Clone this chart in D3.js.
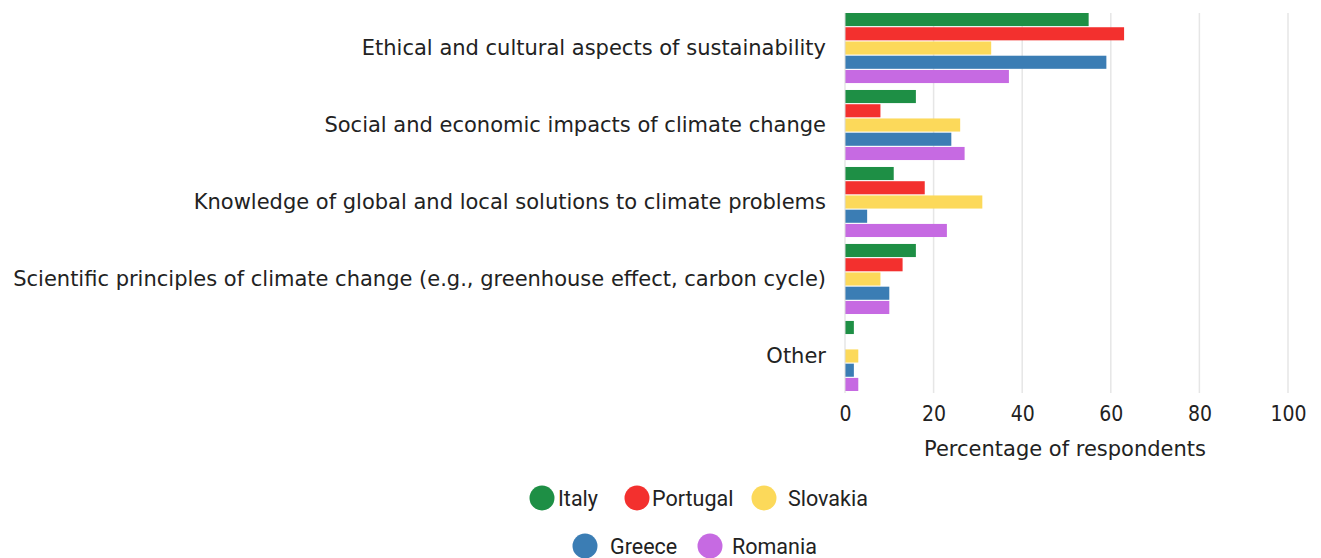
<!DOCTYPE html>
<html><head><meta charset="utf-8">
<script src="https://cdn.jsdelivr.net/npm/d3@7/dist/d3.min.js"></script>
<style>body{margin:0;background:#fff}svg{display:block}</style>
</head><body><svg id="c" width="1321" height="558"></svg>
<script>
const categories = [
  "Ethical and cultural aspects of sustainability",
  "Social and economic impacts of climate change",
  "Knowledge of global and local solutions to climate problems",
  "Scientific principles of climate change (e.g., greenhouse effect, carbon cycle)",
  "Other"
];
const seriesNames = ["Italy","Portugal","Slovakia","Greece","Romania"];
const italy    = [55,16,11,16,2];
const portugal = [63,8,18,13,0];
const slovakia = [33,26,31,8,3];
const greece   = [59,24,5,10,2];
const romania  = [37,27,23,10,3];
const seriesValues = [italy,portugal,slovakia,greece,romania];
const colors = ["#1e8f45","#f3302e","#fcd95a","#3b7db4","#c66ae2"];
const xTicks = [0,20,40,60,80,100];
const xTitle = "Percentage of respondents";

const svg = d3.select("#c");
const labelFont = "'DejaVu Sans', sans-serif";
const tickFont = "'DejaVu Sans Condensed', 'DejaVu Sans', sans-serif";
const x = d3.scaleLinear().domain([0,100]).range([845,1288]);
const y = d3.scaleBand().domain(categories).range([13,391]).paddingInner(0.09).paddingOuter(0);
const y1 = d3.scaleBand().domain(seriesNames).range([0,y.bandwidth()]).paddingInner(0.08);

// gridlines
svg.append("g").selectAll("line").data(xTicks.filter(d=>d>0)).join("line")
  .attr("x1",d=>x(d)).attr("x2",d=>x(d)).attr("y1",13).attr("y2",393)
  .attr("stroke","#e6e6e6").attr("stroke-width",1.5);

// bars
const g = svg.append("g");
categories.forEach((c,ci)=>{
  seriesNames.forEach((s,si)=>{
    g.append("rect").attr("x",x(0)).attr("y",y(c)+y1(s))
      .attr("width",x(seriesValues[si][ci])-x(0)).attr("height",y1.bandwidth())
      .attr("fill",colors[si]);
  });
});
// zero line
svg.append("line").attr("x1",x(0)).attr("x2",x(0)).attr("y1",13).attr("y2",393)
  .attr("stroke","#d9d9d9").attr("stroke-width",1);

// category labels
svg.append("g").selectAll("text").data(categories).join("text")
  .attr("x",826).attr("y",d=>y(d)+y.bandwidth()/2).attr("dy","0.35em")
  .attr("text-anchor","end").attr("font-family",labelFont).attr("font-size",21)
  .attr("fill","#222").text(d=>d);

// x axis
const ax = svg.append("g").attr("transform","translate(0,394)")
  .call(d3.axisBottom(x).tickValues(xTicks).tickSize(0).tickPadding(12));
ax.select(".domain").remove();
ax.selectAll("text").attr("font-family",tickFont).attr("font-size",21).attr("fill","#222");
svg.append("text").attr("x",1065).attr("y",456).attr("text-anchor","middle")
  .attr("font-family",labelFont).attr("font-size",21).attr("fill","#222").text(xTitle);

// legend
const legendPos = [[542,498],[637,498],[764,498],[585,546],[710,546]];
const textOff = [16,15,24,25,22];
const lg = svg.append("g");
seriesNames.forEach((s,i)=>{
  const [cx,cy]=legendPos[i];
  lg.append("circle").attr("cx",cx).attr("cy",cy).attr("r",12.5).attr("fill",colors[i]);
  lg.append("text").attr("x",cx+textOff[i]).attr("y",cy).attr("dy","0.35em")
    .attr("font-family","Roboto, sans-serif").attr("font-size",21.5).attr("fill","#222").text(s);
});
</script></body></html>
